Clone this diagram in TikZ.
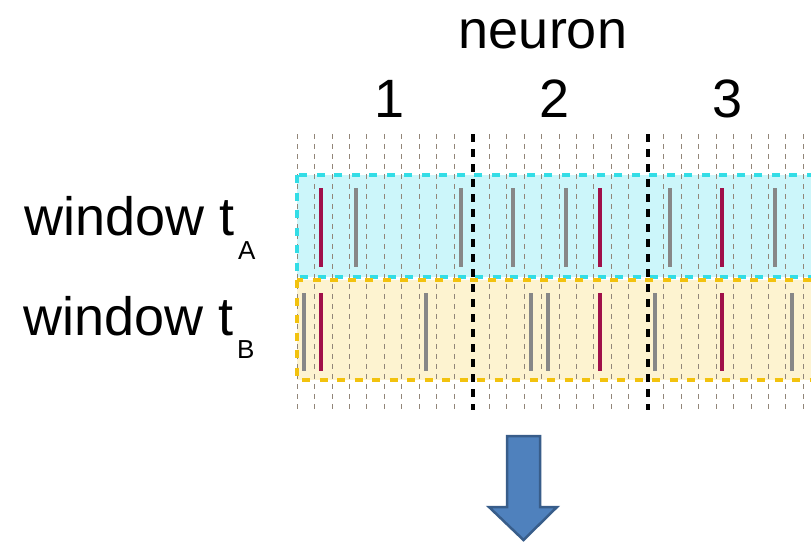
\documentclass[tikz,border=0pt]{standalone}
\usepackage{fontspec}
\setmainfont{Liberation Sans}
\usepackage{tikz}
\definecolor{cyanfill}{HTML}{CCF6FA}
\definecolor{cyanedge}{HTML}{33DDE6}
\definecolor{goldfill}{HTML}{FDF3D0}
\definecolor{goldedge}{HTML}{F2C20E}
\definecolor{spikered}{HTML}{A0104A}
\definecolor{spikegray}{HTML}{878787}
\definecolor{arrowfill}{HTML}{4F81BD}
\definecolor{arrowedge}{HTML}{385D8A}

\begin{document}
\begin{tikzpicture}[x=1pt,y=-1pt,
    big/.style={font=\fontsize{54}{60}\selectfont,inner sep=0pt,anchor=base},
    sub/.style={font=\fontsize{26}{30}\selectfont,inner sep=0pt,anchor=base west}]
      \clip (0,0) rectangle (811,542);
      \fill[white] (0,0) rectangle (811,542);
      % windows
      \fill[cyanfill] (297,175) rectangle (830,277);
      \fill[goldfill] (297,280) rectangle (830,380);
      \foreach \k in {0,...,29} {\pgfmathsetmacro\xx{297 + \k * 17.46}
         \ifnum\k=10 \else\ifnum\k=20 \else
         \draw[spikegray!80!brown,line width=0.8pt,dash pattern=on 5pt off 5pt] (\xx,134) -- (\xx,412);
         \fi\fi }
      \draw[cyanedge,line width=3.5pt,dash pattern=on 8pt off 9.5pt] (297,175) rectangle (830,277);
      \draw[goldedge,line width=3.5pt,dash pattern=on 8pt off 9.5pt] (297,280) rectangle (830,380);
      % spikes
      \foreach \s in {321,600,722} {\draw[spikered,line width=4pt] (\s,188) -- (\s,267); \draw[spikered,line width=4pt] (\s,293) -- (\s,371); }
      \foreach \s in {356,461,513,566,670,775} \draw[spikegray,line width=4pt] (\s,188) -- (\s,267);
      \foreach \s in {304,426,531,548,655,792} \draw[spikegray,line width=4pt] (\s,293) -- (\s,371);
      % neuron borders
      \foreach \b in {473,648} \draw[black,line width=3.5pt,dash pattern=on 8pt off 7pt] (\b,134) -- (\b,410);
      % labels
      \node[big] (neuron) at (543,48) {neuron};
      \node[big] (n1) at (390,117) {1};
      \node[big] (n2) at (555,117) {2};
      \node[big] (n3) at (728,117) {3};
      \node[big,anchor=base west] (winA) at (24,235) {window t};
      \node[sub] (subA) at (238,259) {A};
      \node[big,anchor=base west] (winB) at (23,335) {window t};
      \node[sub] (subB) at (237,358) {B};
      % arrow
      \draw[fill=arrowfill,draw=arrowedge,line width=2.5pt,line join=miter] (507,436) -- (540,436) -- (540,507) -- (557,507) -- (523.5,540) -- (489,507) -- (507,507) -- cycle;
   \end{tikzpicture}
\end{document}
